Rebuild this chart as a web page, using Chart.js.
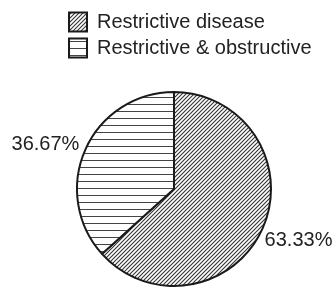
<!DOCTYPE html>
<html>
<head>
<meta charset="utf-8">
<title>Restrictive disease share</title>
<script src="https://cdn.jsdelivr.net/npm/chart.js@4.4.1/dist/chart.umd.min.js"></script>
<style>
    html, body { margin: 0; padding: 0; background: #fff; }
    canvas { display: block; }
</style>
</head>
<body>
<canvas id="pieChart" width="336" height="291"></canvas>
<script>
// Chart data
const categories = ['Restrictive disease', 'Restrictive & obstructive'];
const shares = [63.33, 36.67];
const shareLabels = ['63.33%', '36.67%'];

const FONT = '"Liberation Sans", Arial, Helvetica, sans-serif';
const INK = '#222';

const canvas = document.getElementById('pieChart');
const ctx = canvas.getContext('2d');

/**
 * Diagonal "/" hatch used for the restrictive disease slice
 */
function diagonalHatch() {
    const size = 4;
    const tile = document.createElement('canvas');
    tile.width = size;
    tile.height = size;
    const g = tile.getContext('2d');
    g.fillStyle = '#fff';
    g.fillRect(0, 0, size, size);
    g.strokeStyle = '#333';
    g.lineWidth = 1.1;
    g.beginPath();
    g.moveTo(-1, size + 1); g.lineTo(size + 1, -1);
    g.moveTo(-1, 1); g.lineTo(1, -1);
    g.moveTo(size - 1, size + 1); g.lineTo(size + 1, size - 1);
    g.stroke();
    return ctx.createPattern(tile, 'repeat');
}

/**
 * Horizontal line hatch used for the restrictive & obstructive slice
 */
function horizontalHatch() {
    const size = 7;
    const tile = document.createElement('canvas');
    tile.width = size;
    tile.height = size;
    const g = tile.getContext('2d');
    g.fillStyle = '#fff';
    g.fillRect(0, 0, size, size);
    g.fillStyle = '#444';
    g.fillRect(0, size - 1, size, 1);
    return ctx.createPattern(tile, 'repeat');
}

// Push the pie down below the legend, and let the legend text run past the pie area
const legendSpacer = {
    id: 'legendSpacer',
    beforeInit(chart) {
        const fitLegend = chart.legend.fit;
        chart.legend.fit = function() {
            fitLegend.call(this);
            this.height += 23;
        };
    },
    afterLayout(chart) {
        chart.legend.right = chart.width;
        chart.legend.width = chart.width - chart.legend.left;
    }
};

// Percent labels just outside each slice
const outsideLabels = {
    id: 'outsideLabels',
    afterDatasetsDraw(chart) {
        const c = chart.ctx;
        const meta = chart.getDatasetMeta(0);
        c.save();
        c.font = '20px ' + FONT;
        c.fillStyle = INK;
        c.textBaseline = 'middle';
        meta.data.forEach((arc, i) => {
            const mid = (arc.startAngle + arc.endAngle) / 2;
            const px = arc.x + Math.cos(mid) * arc.outerRadius;
            const py = arc.y + Math.sin(mid) * arc.outerRadius;
            const onRight = Math.cos(mid) >= 0;
            c.textAlign = onRight ? 'left' : 'right';
            c.fillText(shareLabels[i], onRight ? px + 2 : px - 6, onRight ? py + 12 : py - 5);
        });
        c.restore();
    }
};

new Chart(ctx, {
    type: 'pie',
    data: {
        labels: categories,
        datasets: [{
            data: shares,
            backgroundColor: [diagonalHatch(), horizontalHatch()],
            borderColor: '#1a1a1a',
            borderWidth: 2
        }]
    },
    options: {
        responsive: false,
        animation: false,
        events: [],
        devicePixelRatio: 1,
        layout: {
            padding: { top: 6, left: 63, right: 51, bottom: 4 }
        },
        plugins: {
            legend: {
                position: 'top',
                align: 'start',
                labels: {
                    boxWidth: 18,
                    boxHeight: 19,
                    padding: 6,
                    color: INK,
                    font: { size: 20, family: FONT }
                }
            },
            tooltip: { enabled: false }
        }
    },
    plugins: [legendSpacer, outsideLabels]
});
</script>
</body>
</html>
